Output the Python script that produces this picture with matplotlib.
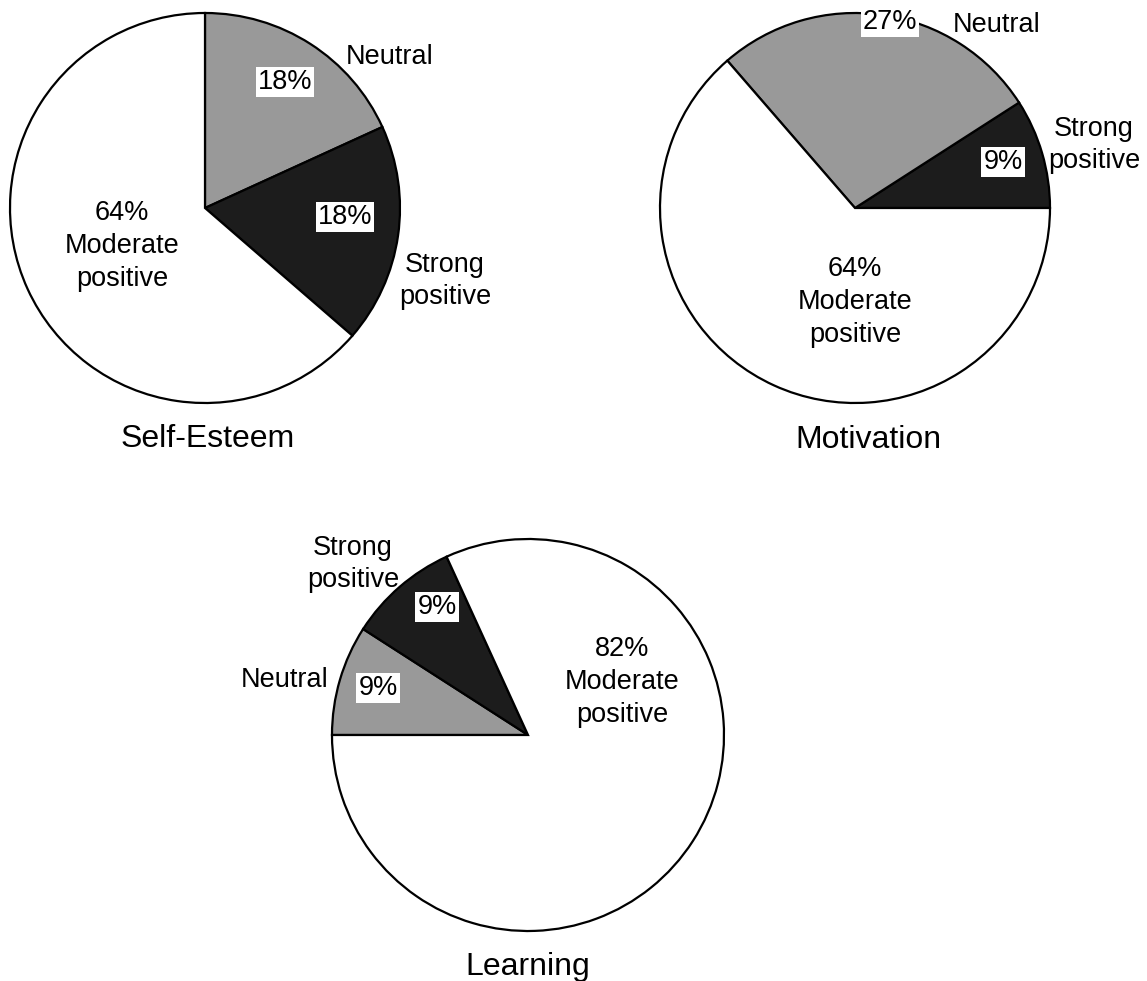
import matplotlib.pyplot as plt

plt.rcParams["font.family"] = ["Liberation Sans", "DejaVu Sans"]

# responses per category (11 respondents)
se_labels = ["Neutral", "Strong positive", "Moderate positive"]
se_counts = [2, 2, 7]

mo_labels = ["Strong positive", "Neutral", "Moderate positive"]
mo_counts = [1, 3, 7]

le_labels = ["Neutral", "Strong positive", "Moderate positive"]
le_counts = [1, 1, 9]

colors = {"Neutral": "#999999", "Strong positive": "#1c1c1c", "Moderate positive": "white"}

W, H = 1147, 981


def pct(counts, i):
    return f"{round(100 * counts[i] / sum(counts))}%"


def draw_pie(ax, labels, counts, center, radius, start, clockwise):
    # centre given in image pixels (y down); axes use y up
    cx, cy = center
    ax.pie(counts, colors=[colors[l] for l in labels], startangle=start,
           counterclock=not clockwise, center=(cx, H - cy), radius=radius,
           wedgeprops=dict(edgecolor="black", linewidth=1.6), frame=True)


def txt(ax, x, y, s, size=19.5, box=False, **kw):
    bbox = dict(facecolor="white", edgecolor="none", pad=1.5) if box else None
    kw.setdefault("va", "center")
    ax.text(x, H - y, s, fontsize=size, ha="center", bbox=bbox, **kw)


def title(ax, x, y, s):
    txt(ax, x, y, s, size=23, va="baseline")


fig = plt.figure(figsize=(11.47, 9.81), dpi=100)
ax = fig.add_axes([0, 0, 1, 1])

draw_pie(ax, se_labels, se_counts, (205, 208), 195, 90, True)
draw_pie(ax, mo_labels, mo_counts, (855, 208), 195, 0, False)
draw_pie(ax, le_labels, le_counts, (528, 735), 196, 180, True)

ax.set_xlim(0, W)
ax.set_ylim(0, H)
ax.set_aspect("equal")
ax.axis("off")

ls = 1.33

# Self-Esteem
txt(ax, 285, 82, pct(se_counts, 0), box=True)
txt(ax, 345, 217, pct(se_counts, 1), box=True)
txt(ax, 122, 246, pct(se_counts, 2) + "\nModerate\npositive", linespacing=ls)
txt(ax, 390, 57, "Neutral")
txt(ax, 445, 281, "Strong\npositive", linespacing=ls)
title(ax, 208, 447, "Self-Esteem")

# Motivation
txt(ax, 890, 22, pct(mo_counts, 1), box=True)
txt(ax, 1003, 162, pct(mo_counts, 0), box=True)
txt(ax, 855, 302, pct(mo_counts, 2) + "\nModerate\npositive", linespacing=ls)
txt(ax, 997, 25, "Neutral")
txt(ax, 1094, 145, "Strong\npositive", linespacing=ls)
title(ax, 868, 448, "Motivation")

# Learning
txt(ax, 378, 688, pct(le_counts, 0), box=True)
txt(ax, 437, 607, pct(le_counts, 1), box=True)
txt(ax, 622, 682, pct(le_counts, 2) + "\nModerate\npositive", linespacing=ls)
txt(ax, 285, 680, "Neutral")
txt(ax, 353, 564, "Strong\npositive", linespacing=ls)
title(ax, 528, 975, "Learning")

fig.savefig("out.png", dpi=100, facecolor="white")
plt.close(fig)
